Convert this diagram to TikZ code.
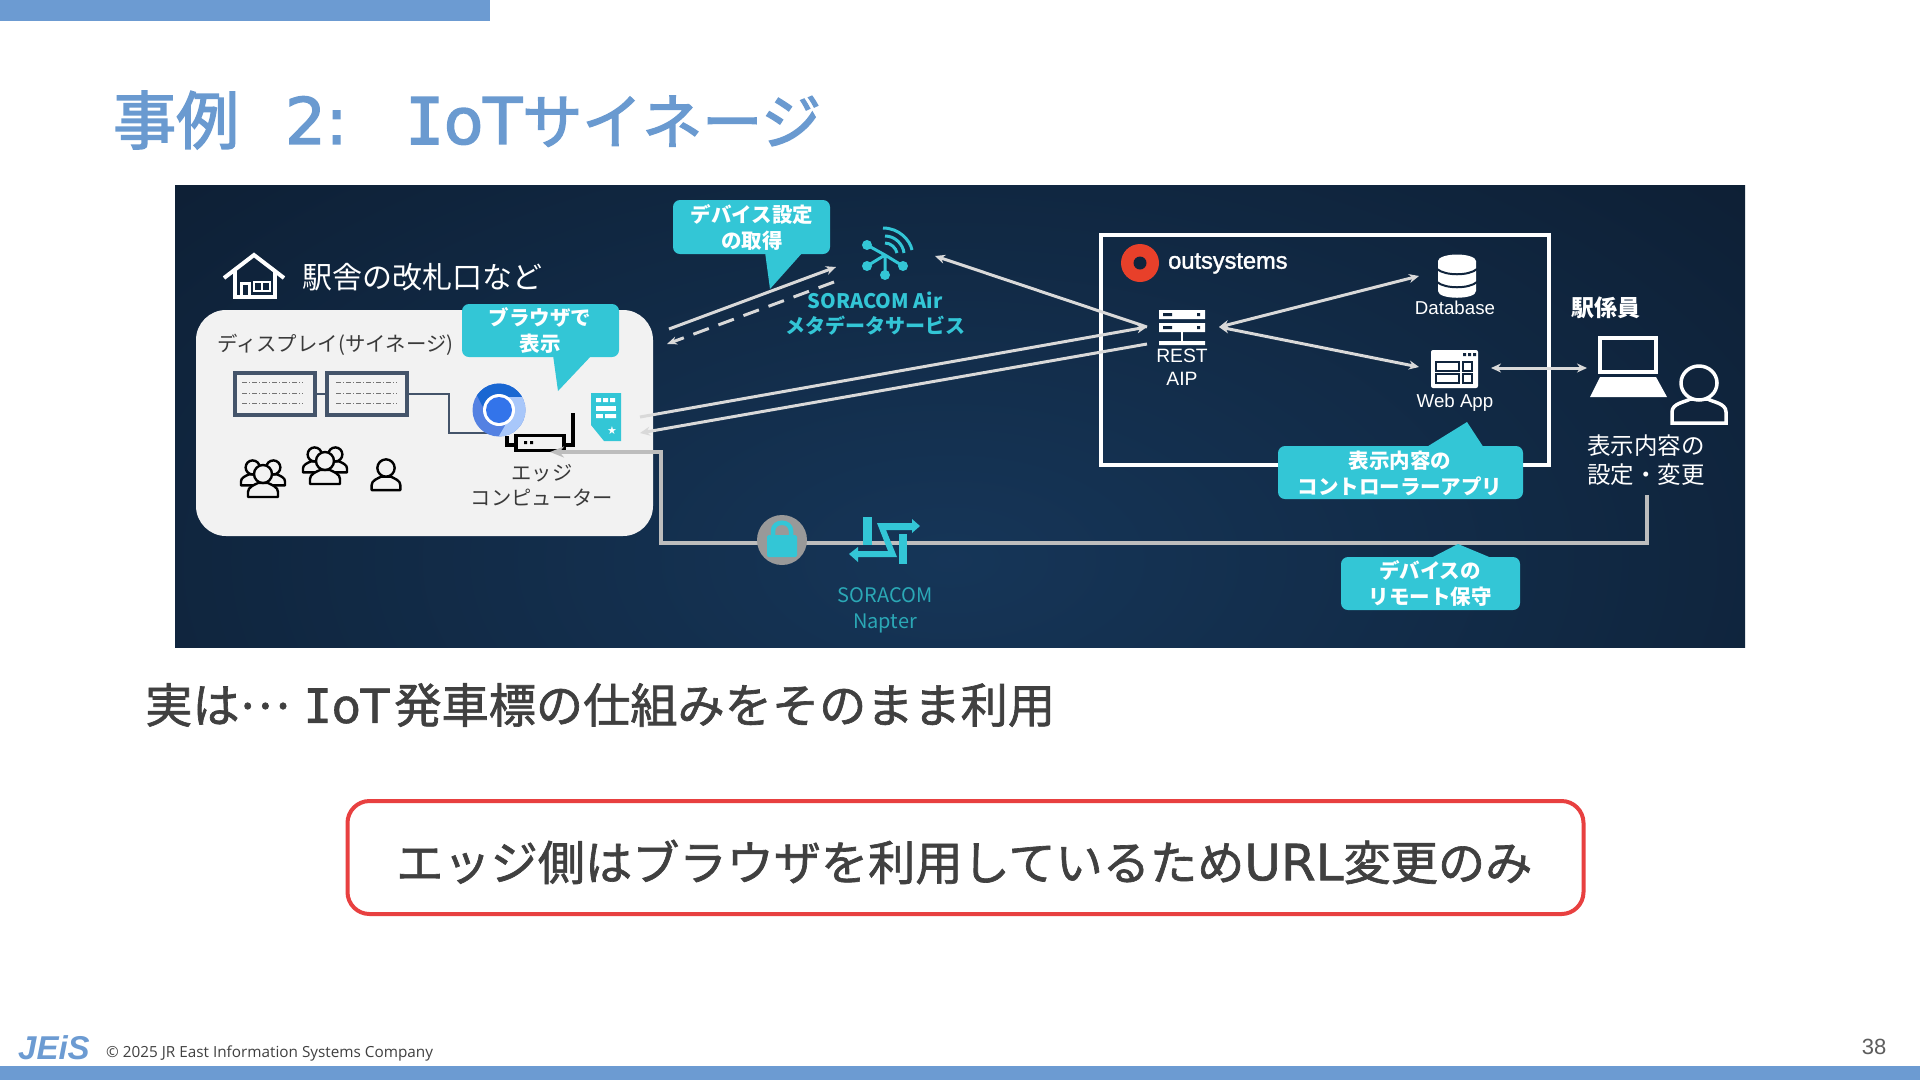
\documentclass[tikz,border=0pt]{standalone}
\usepackage{fontspec}
\usetikzlibrary{arrows.meta,shapes.geometric}
\setmainfont{Noto Sans CJK JP}
\newfontfamily\jpt[FakeBold=2.4]{Noto Sans CJK JP}
\newfontfamily\jpm[FakeBold=1.4]{Noto Sans CJK JP}
\newfontfamily\latt[FakeBold=2.2]{DejaVu Sans}
\newfontfamily\monT[FakeBold=2.8]{DejaVu Sans Mono}
\newfontfamily\latm[FakeBold=1.2]{DejaVu Sans}
\newfontfamily\monI[FakeBold=1.6]{DejaVu Sans Mono}
\newfontfamily\lat{Liberation Sans}
\newfontfamily\latb[FakeBold=1.6]{Liberation Sans}
\newfontfamily\foot{Open Sans}
\newfontfamily\sym{DejaVu Sans}
\definecolor{barblue}{HTML}{6C9BD2}
\definecolor{titleblue}{HTML}{6A9AD0}
\definecolor{teal}{HTML}{33C6D6}
\definecolor{ink}{HTML}{404040}
\definecolor{wire}{HTML}{D9D9D9}
\definecolor{slate}{HTML}{44546A}
\definecolor{card}{HTML}{F2F2F2}
\definecolor{hole}{HTML}{10243C}
\pgfdeclareradialshading{panelshade}{\pgfpointorigin}{rgb(0bp)=(0.085,0.21,0.345); rgb(43bp)=(0.04,0.09,0.155); rgb(50bp)=(0.04,0.09,0.155)}
\newcommand{\fs}[1]{\fontsize{#1}{#1}\selectfont}
\newcommand{\fsl}[2]{\fontsize{#1}{#2}\selectfont}
\tikzset{
  lbl/.style={inner sep=0pt,align=center},
  callout/.style={fill=teal,rounded corners=7pt},
  ctext/.style={lbl,text=white,font=\bfseries\fsl{20.5}{26}},
  wireline/.style={draw=wire,line width=3pt},
  dbl/.style={wireline,{Stealth[length=10pt,width=9pt]}-{Stealth[length=10pt,width=9pt]}},
  single/.style={wireline,-{Stealth[length=10pt,width=9pt]}},
  maint/.style={draw=white!74!black,line width=4.5pt,line join=miter},
  pers/.pic={
    \path[draw=black,line width=2.4pt,fill=card,line join=round,pic actions]
      (-15,23) -- (-15,18) .. controls (-15,13) and (-9,11) .. (-5,9)
      -- (5,9) .. controls (9,11) and (15,13) .. (15,18) -- (15,23) -- cycle;
    \path[draw=black,line width=2.4pt,fill=card] (0,0) circle[radius=9];
  },
  grp/.pic={
    \pic[scale=.78] at (-11,-7) {pers};
    \pic[scale=.78] at (11,-7) {pers};
    \pic at (0,0) {pers};
  }
}
\begin{document}
\begin{tikzpicture}[x=1pt,y=-1pt]
\useasboundingbox (0,0) rectangle (1920,1080);
\fill[white] (0,0) rectangle (1920,1080);
% bars
\fill[barblue] (0,0) rectangle (490,21);
\fill[barblue] (0,1066) rectangle (1920,1080);
% title
\node[lbl,anchor=west,text=titleblue,font=\jpt\fs{60}] (title) at (113,120) {{\fs{63}事例}\hspace{46pt}{\latt\fs{64}2:}\hspace{58pt}{\monT\fs{64}I}{\latt\fs{64}oT}サイネージ};
% panel
\begin{scope}
\clip (175,185) rectangle (1745,647.5);
\shade[shading=panelshade] (100,100) rectangle (1800,1020);
\end{scope}
% station card
\fill[card,rounded corners=30pt] (196,310) rectangle (653,536);
% house
\draw[white,line width=4pt,line join=miter] (224,278) -- (254,255) -- (284,278);
\draw[white,line width=4pt] (235,270) -- (235,297) -- (275,297) -- (275,270);
\draw[white,line width=3pt] (241,297) -- (241,283) -- (249,283) -- (249,297);
\draw[white,line width=2.5pt] (254,282) rectangle (270,291);
\draw[white,line width=2pt] (262,282) -- (262,291);
\node[lbl,anchor=west,text=white,font=\fs{30}] (place) at (302,277) {駅舎の改札口など};
% displays
\node[lbl,anchor=west,text=ink!90!black,font=\fs{20.4}] (dsp) at (217,345) {ディスプレイ(サイネージ)};
\node[draw=slate,line width=4pt,minimum width=80pt,minimum height=42pt,inner sep=0pt,fill=card] (s1) at (275,394) {};
\node[draw=slate,line width=4pt,minimum width=80pt,minimum height=42pt,inner sep=0pt,fill=card] (s2) at (367,394) {};
\foreach \yy in {382,393,403}{
  \draw[black!55,line width=.8pt,dash pattern=on 5pt off 2pt on 1pt off 2pt] (242,\yy) -- (303,\yy);
  \draw[black!55,line width=.8pt,dash pattern=on 5pt off 2pt on 1pt off 2pt] (336,\yy) -- (397,\yy);
}
\draw[slate,line width=2.5pt] (s1.east) -- (s2.west);
\coordinate (chromein) at (490,433);
\draw[slate,line width=2.5pt] (s2.east) -| (449,433) -- (chromein);
% router
\draw[black,line width=3.5pt] (507,436) -- (507,445) -- (516,445);
\draw[black,line width=3.5pt] (573,413) -- (573,445) -- (564,445);
\node[draw=black,line width=3.5pt,fill=card,minimum width=48pt,minimum height=15pt,inner sep=0pt] (router) at (540,443) {};
\fill[black] (524,441) rectangle (527,444) (530,441) rectangle (533,444);
% chrome icon
\begin{scope}[shift={(499,410)}]
\begin{scope}
\clip (0,0) circle[radius=26.5];
\fill[fill={rgb,255:red,84;green,129;blue,226}] (-27,-27) rectangle (27,27);
\fill[fill={rgb,255:red,25;green,103;blue,210}] (-11.3,6.5) -- (0,-13) -- (45,-13) -- (45,-60) -- (-45,-60) -- cycle;
\fill[fill={rgb,255:red,168;green,199;blue,250}] (0,-13) -- (45,-13) -- (60,65) -- (-22.6,65) -- (11.3,6.5) -- cycle;
\end{scope}
\fill[white] (0,0) circle[radius=16];
\fill[fill={rgb,255:red,51;green,116;blue,234}] (0,0) circle[radius=13];
\end{scope}
% sim
\fill[teal] (591,393) -- (621,393) -- (621,441) -- (604,441) -- (591,425) -- cycle;
\fill[white] (596,398) rectangle (601,402) (603,398) rectangle (608,402) (610,398) rectangle (615,402);
\fill[white] (596,406) rectangle (616,411);
\fill[white] (596,414) rectangle (603,418) (605,414) rectangle (616,418);
\fill[teal] (603,411) rectangle (605,418);
\node[lbl,text=white,font=\sym\fs{11}] (star) at (612,431) {★};
% people
\pic[scale=.94] at (263,474) {grp};
\pic[scale=.94] at (325,461) {grp};
\pic[scale=.96] at (386,468) {pers};
\node[lbl,text=ink!90!black,font=\fsl{20.3}{25}] (edge) at (542,485) {エッジ\\コンピューター};
% browser callout
\path[callout] (462,304) rectangle (619,357);
\fill[teal] (553,355) -- (558,391) -- (592,355) -- cycle;
\node[ctext] (cb) at (540,330.5) {ブラウザで\\表示};
% air callout
\path[callout] (673,200) rectangle (830,254);
\fill[teal] (765,252) -- (770,289) -- (803,252) -- cycle;
\node[ctext] (ca) at (752,227) {デバイス設定\\の取得};
% air icon
\coordinate (hub) at (885,255);
\begin{scope}[teal]
\draw[line width=3pt] (hub) -- (867,245) (hub) -- (867,266) (hub) -- (903,266) (hub) -- (885,275);
\foreach \px/\py/\rr in {867/245/5,867/266/5,903/266/5,885/275/5}{\fill (\px,\py) circle[radius=\rr];}
\draw[line width=3pt] (885,243) .. controls (891,243) and (896,248) .. (897,253);
\draw[line width=3pt] (885,236) .. controls (895,236) and (903,244) .. (904,253);
\draw[line width=3pt] (883,228) .. controls (899,228) and (910,240) .. (912,250);
\end{scope}
\node[lbl,text=teal,font=\bfseries\fsl{20}{25}] (airt) at (875,313.5) {SORACOM Air\\メタデータサービス};
% outsystems box
\draw[white,line width=4pt] (1101,235) rectangle (1549,465);
\fill[fill={rgb,255:red,232;green,64;blue,42}] (1140,263) circle[radius=19];
\fill[hole] (1140,263) circle[radius=6.5];
\node[lbl,anchor=west,text=white,font=\latb\fs{23.6}] (os) at (1168,263.5) {outsystems};
% server
\fill[white] (1159,310) rectangle (1205,319) (1159,323) rectangle (1205,332) (1159,341) rectangle (1205,345);
\fill[white] (1181,332) rectangle (1183,341);
\fill[hole] (1163,313) rectangle (1172,316) (1163,326) rectangle (1172,329) (1197,313) rectangle (1200,316) (1197,326) rectangle (1200,329);
\coordinate (restL) at (1147,327);
\coordinate (restLb) at (1147,344);
\coordinate (restR) at (1219,327);
\node[lbl,text=white,font=\lat\fsl{19.3}{23}] (rest) at (1182,367) {REST\\AIP};
% database
\fill[white] (1438,261) -- (1476,261) -- (1476,291) .. controls (1476,300) and (1438,300) .. (1438,291) -- cycle;
\fill[white] (1457,261) ellipse[x radius=19,y radius=6.5];
\draw[hole,line width=2pt] (1437,269) .. controls (1445,276) and (1469,276) .. (1477,269);
\draw[hole,line width=2pt] (1437,282) .. controls (1445,289) and (1469,289) .. (1477,282);
\coordinate (dbL) at (1419,276);
\node[lbl,text=white,font=\lat\fs{18.7}] (dbt) at (1455,308) {Database};
% webapp
\fill[white,rounded corners=2pt] (1431,350) rectangle (1478,388);
\draw[hole,line width=1.6pt] (1436,362) rectangle (1459,371) (1463,362) rectangle (1472,371) (1436,374) rectangle (1459,383) (1463,374) rectangle (1472,383);
\fill[hole] (1463,353) rectangle (1466,356) (1468,353) rectangle (1471,356) (1473,353) rectangle (1476,356);
\coordinate (webL) at (1419,367);
\coordinate (webR) at (1491,368);
\node[lbl,text=white,font=\lat\fs{18.7}] (wbt) at (1455,403) {Web App};
% laptop
\draw[white,line width=3.5pt] (1600,338) rectangle (1656,372);
\fill[white] (1600,377) -- (1656,377) -- (1667,397) -- (1590,397) -- cycle;
\coordinate (lapL) at (1587,368);
% staff
\draw[white,line width=3.5pt,fill=hole] (1672,423) -- (1672,412) .. controls (1672,403) and (1686,402) .. (1690,399) -- (1708,399) .. controls (1712,402) and (1726,403) .. (1726,412) -- (1726,423) -- cycle;
\draw[white,line width=3.5pt,fill=hole] (1699,383) ellipse[x radius=18,y radius=17];
\node[lbl,text=white,font=\bfseries\fs{23}] (staff) at (1606,308) {駅係員};
\node[lbl,text=white,font=\fsl{23.5}{29}] (chg) at (1646,460) {表示内容の\\設定・変更};
% control-app callout
\path[callout] (1278,446) rectangle (1523,499);
\fill[teal] (1425,448) -- (1467,422) -- (1484,448) -- cycle;
\node[ctext] (cc) at (1400,473) {表示内容の\\コントローラーアプリ};
% connectors over the panel
\coordinate (dA) at (669,329);
\coordinate (dB) at (836,267);
\coordinate (eA) at (834,282);
\coordinate (eB) at (667,344);
\draw[single] (dA) -- (dB);
\draw[wireline,-{Stealth[length=10pt,width=8pt]},dash pattern=on 16.5pt off 10.2pt] (eA) -- (eB);
\coordinate (airR) at (935,256);
\draw[single] (restL) -- (airR);
\coordinate (cardA) at (640,417);
\coordinate (cardB) at (640,433);
\draw[single] (cardA) -- (restL);
\draw[single] (restLb) -- (cardB);
\draw[dbl] (restR) -- (dbL);
\draw[dbl] (restR) -- (webL);
\draw[dbl] (webR) -- (lapL);
% maintenance line
\coordinate (mA) at (1647,495);
\coordinate (mB) at (550,452);
\draw[maint,-{Stealth[length=14pt,width=11pt]}] (mA) -- (1647,543) -- (661,543) -- (661,452) -- (mB);
% lock
\fill[black!40] (782,540) circle[radius=25];
\fill[teal,rounded corners=1.5pt] (767,535) rectangle (797,557);
\draw[teal,line width=4.5pt] (773,536) -- (773,531) .. controls (773,520) and (791,520) .. (791,531) -- (791,536);
% napter
\fill[teal] (863,517) rectangle (872,545);
\fill[teal] (899,534) rectangle (907,564);
\fill[teal] (877,523) -- (912,523) -- (912,519) -- (920,526) -- (912,533) -- (912,530) -- (886,530) -- (897,557) -- (858,557) -- (858,562) -- (849,554) -- (858,547) -- (858,551) -- (888,551) -- cycle;
\node[lbl,text=teal!85!black,font=\fsl{20}{26}] (napt) at (885,610.5) {SORACOM\\Napter};
% maintenance callout
\path[callout] (1341,557) rectangle (1520,610);
\fill[teal] (1429,559) -- (1458,544) -- (1494,559) -- cycle;
\node[ctext] (cm) at (1430,583) {デバイスの\\リモート保守};
% lower text
\node[lbl,anchor=west,text=ink,font=\jpm\fs{47.2}] (body) at (145,705) {実は\raisebox{.3em}{⋯}\hspace{14pt}{\monI\fs{47}I}{\latm\fs{47}oT}\hspace{5pt}発車標の仕組みをそのまま利用};
\node[draw={rgb,255:red,232;green,64;blue,64},line width=4pt,rounded corners=22pt,minimum width=1236pt,minimum height=113pt,inner sep=0pt] (frame) at (965.5,857.5) {};
\node[lbl,anchor=west,text=ink,font=\jpm\fs{47.2}] (framet) at (396,862) {エッジ側はブラウザを利用しているため{\latm\fs{50}URL}変更のみ};
% footer
\node[lbl,anchor=west,text=barblue,font=\lat\bfseries\itshape\fs{33}] (logo) at (18,1048) {JEiS};
\node[lbl,anchor=west,text=ink,font=\foot\fs{15.3}] (copy) at (106,1053) {© 2025 JR East Information Systems Company};
\node[lbl,text=ink!85,font=\lat\fs{22}] (pg) at (1874,1047) {38};
\end{tikzpicture}
\end{document}
